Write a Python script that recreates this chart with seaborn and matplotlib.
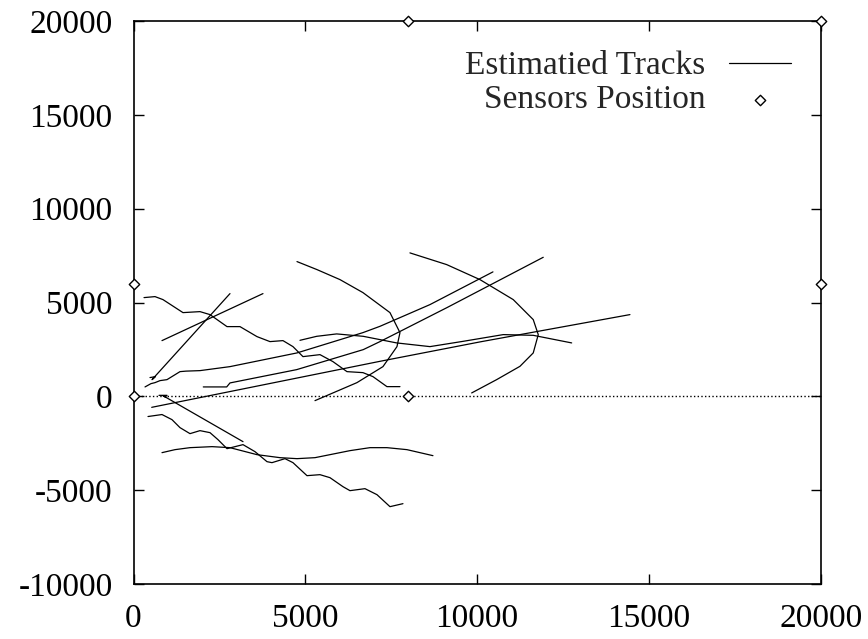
import numpy as np
import pandas as pd
import seaborn as sns
import matplotlib.pyplot as plt

# ---- data (x, y in metres) ----
track1_x = [306, 626, 858, 1440, 1935, 2226, 2721, 3099, 3594, 3972, 4350, 4641, 4932, 5427, 5805, 6213, 6678, 6969, 7376, 7755]
track1_y = [5261, 5314, 5154, 4461, 4514, 4355, 3715, 3715, 3182, 2916, 2969, 2649, 2116, 2222, 1849, 1316, 1263, 1050, 517, 517]

track2_x = [422, 829, 1120, 1353, 1644, 1935, 2226, 2459, 2721, 3187, 3536, 3885, 4030, 4409, 4641, 5049, 5427, 5718, 6096, 6300, 6737, 7086, 7464, 7842]
track2_y = [-1076, -970, -1242, -1668, -1988, -1828, -1935, -2308, -2788, -2574, -2948, -3481, -3534, -3321, -3534, -4227, -4174, -4334, -4813, -5026, -4920, -5240, -5879, -5719]

track3_x = [480, 640, 540, 2808]
track3_y = [1000, 1050, 890, 5474]

track4_x = [829, 3768]
track4_y = [2969, 5474]

track5_x = [742, 975, 920, 858, 3187]
track5_y = [53, 53, -30, 37, -2415]

track6_x = [829, 1208, 1644, 2284, 2808, 3594, 4263, 4758, 5282, 5718, 6300, 6882, 7376, 7958, 8715]
track6_y = [-3001, -2841, -2735, -2681, -2735, -3108, -3268, -3321, -3268, -3108, -2894, -2735, -2735, -2841, -3161]

track7_x = [335, 509, 626, 771, 975, 1353, 1528, 1935, 2808, 4758, 6678, 7173, 8628, 10461]
track7_y = [501, 677, 730, 837, 890, 1316, 1343, 1370, 1583, 2313, 3395, 3731, 4888, 6631]

track8_x = [2031, 2712, 2808, 4749, 6687, 7173, 9123, 11925]
track8_y = [501, 501, 714, 1423, 2489, 2916, 4728, 7409]

track9_x = [530, 7173, 10083, 14448]
track9_y = [-586, 1866, 2900, 4355]

track10_x = [4758, 5340, 6009, 6678, 7464, 7755, 7668, 7260, 6503, 5282]
track10_y = [7180, 6753, 6220, 5527, 4461, 3395, 2649, 1583, 730, -229]

track11_x = [8046, 9114, 10083, 11052, 11634, 11780, 11634, 11247, 10569, 9842]
track11_y = [7643, 7020, 6220, 5154, 4088, 3288, 2313, 1599, 890, 181]

track12_x = [4845, 5331, 5913, 6687, 7659, 8628, 9597, 10761, 11634, 12752]
track12_y = [2985, 3198, 3326, 3198, 2846, 2649, 2932, 3289, 3251, 2846]

sensor_x = [0, 0, 8000, 8000, 20000, 20000]
sensor_y = [0, 6000, 0, 20000, 20000, 6000]

xticks = [0, 5000, 10000, 15000, 20000]
yticks = [-10000, -5000, 0, 5000, 10000, 15000, 20000]

tracks = [(track1_x, track1_y), (track2_x, track2_y), (track3_x, track3_y),
          (track4_x, track4_y), (track5_x, track5_y), (track6_x, track6_y),
          (track7_x, track7_y), (track8_x, track8_y), (track9_x, track9_y),
          (track10_x, track10_y), (track11_x, track11_y), (track12_x, track12_y)]

rows = []
for i, (tx, ty) in enumerate(tracks):
    for j, (a, b) in enumerate(zip(tx, ty)):
        rows.append({'track': i, 'step': j, 'x': a, 'y': b})
df = pd.DataFrame(rows)
sensors = pd.DataFrame({'x': sensor_x, 'y': sensor_y})

sns.set_theme(style='ticks')
plt.rcParams['font.family'] = ['Liberation Serif', 'DejaVu Serif']
plt.rcParams['font.size'] = 24
plt.rcParams['axes.unicode_minus'] = False

fig = plt.figure(figsize=(8.68, 6.39), dpi=100)
ax = fig.add_axes([133.5 / 868, 1 - 584 / 639, (820.7 - 133.5) / 868, (584 - 21) / 639])

ax.axhline(0, color='black', ls=':', lw=1)
n_before = len(ax.lines)

sns.lineplot(data=df, x='x', y='y', units='track', estimator=None, sort=False,
             color='black', lw=0.9, ax=ax, legend=False)
track_handle = ax.lines[n_before]
sns.scatterplot(data=sensors, x='x', y='y', marker='D', s=28, facecolor='white',
                edgecolor='black', linewidth=1, ax=ax, clip_on=False, zorder=5,
                legend=False)
sensor_handle = ax.collections[-1]

ax.set_xlim(0, 20000)
ax.set_ylim(-10000, 20000)
ax.set_xticks(xticks)
ax.set_yticks(yticks)
ax.set_xlabel('')
ax.set_ylabel('')
ax.tick_params(direction='in', length=7, width=1, top=True, right=True,
               labelsize=24, colors='black')
ax.tick_params(axis='x', pad=14)
ax.tick_params(axis='y', pad=15)
for s in ax.spines.values():
    s.set_color('black')
    s.set_linewidth(1.2)

# panel label, mostly above the canvas as in the source figure
ax.set_title('(a)', x=0.41, pad=21, fontsize=24)

leg = ax.legend([track_handle, sensor_handle], ['Estimatied Tracks', 'Sensors Position'],
                loc='upper right', frameon=False, markerfirst=False, fontsize=24,
                handlelength=1.85, handletextpad=0.7, labelspacing=0.1,
                bbox_to_anchor=(1.0, 1.0))

fig.savefig('out.png', dpi=100)
